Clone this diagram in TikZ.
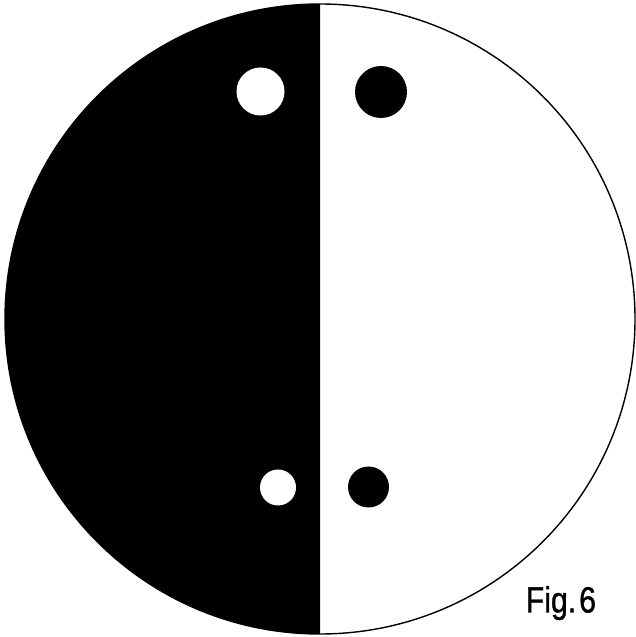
\documentclass[tikz,border=0pt]{standalone}
\usepackage{fontspec}
\setmainfont{Liberation Sans}
\newfontfamily\figfont[FakeBold=1.2]{Liberation Sans}
\begin{document}
\begin{tikzpicture}[x=1pt,y=1pt,
  rim/.style={draw=black,line width=1.4pt},
  whitedot/.style={circle,fill=white,inner sep=0pt},
  blackdot/.style={circle,fill=black,inner sep=0pt}]
\useasboundingbox (0,0) rectangle (636,637);
\coordinate (c) at (320,318);
\fill[white] (0,0) rectangle (636,637);
\fill[black] (320,633) arc[start angle=90,end angle=270,radius=315] -- cycle;
\draw[rim] (c) circle[radius=315];
\node[whitedot,minimum size=48pt] (w1) at (260.5,545.5) {};
\node[blackdot,minimum size=52pt] (b1) at (381,545) {};
\node[whitedot,minimum size=36pt] (w2) at (278,149.5) {};
\node[blackdot,minimum size=41pt] (b2) at (368.5,150) {};
\node[anchor=base west,inner sep=0pt,xscale=0.83] (lbl) at (525.6,24.5) {\figfont\fontsize{36.5}{36.5}\selectfont Fig.\kern3.5pt6};
\end{tikzpicture}
\end{document}
